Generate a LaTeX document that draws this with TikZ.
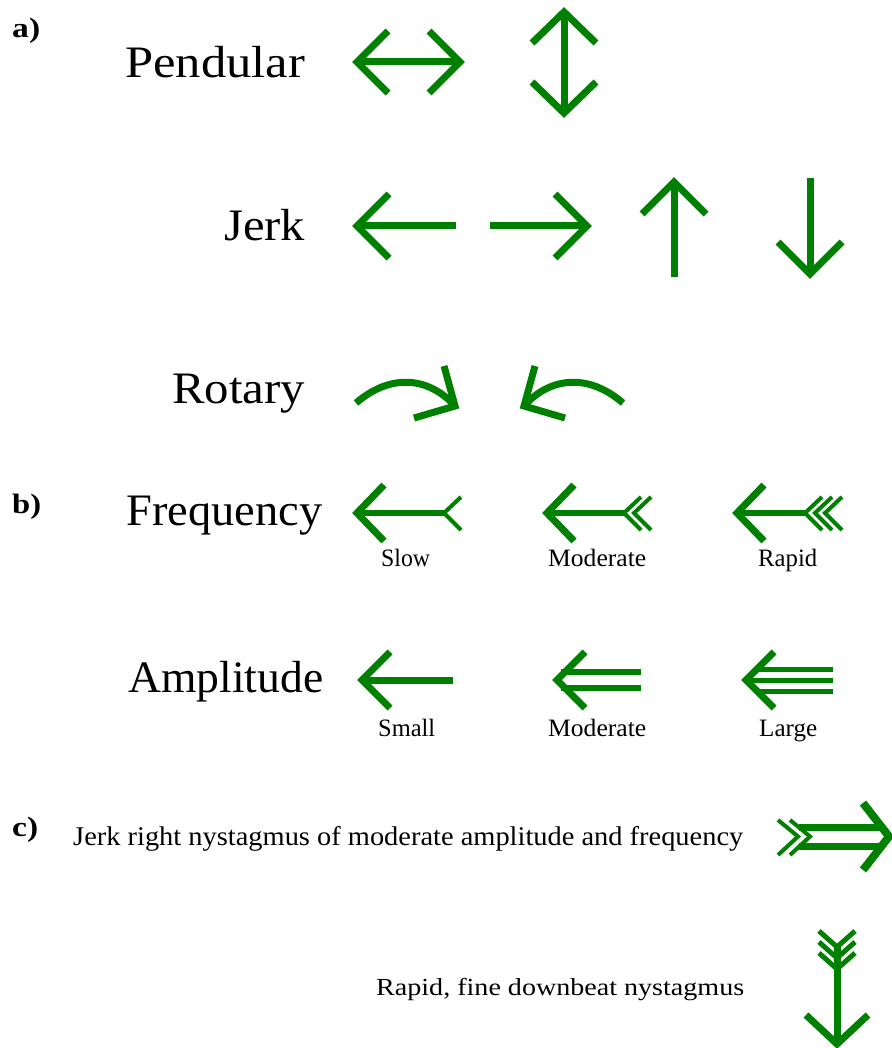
\documentclass[tikz,border=0pt]{standalone}
\usepackage{fontspec}
\setmainfont{Liberation Serif}
\usepackage{graphicx}
\definecolor{ngreen}{RGB}{0,128,0}
\newcommand\fitw[2]{\resizebox{#1}{\height}{#2}}
\tikzset{
  arr/.style={draw=ngreen, line width=7pt, line join=miter, line cap=butt},
  shaft/.style={draw=ngreen, line width=6pt, line cap=butt},
  fl/.style={draw=ngreen, line width=4pt, line join=miter, line cap=butt},
  lbl/.style={anchor=base west, inner sep=0pt, font=\fontsize{45}{50}\selectfont},
  sub/.style={anchor=base west, inner sep=0pt, font=\fontsize{25}{28}\selectfont},
  tag/.style={anchor=base west, inner sep=0pt, font=\fontsize{28}{30}\selectfont\bfseries}
}
\begin{document}
\begin{tikzpicture}[x=1pt,y=-1pt]
\useasboundingbox[fill=white] (0,0) rectangle (891,1048);
% tags
\node[tag] (ta) at (12,38) {\fitw{28pt}{a)}};
\node[tag] (tb) at (12,513) {\fitw{29pt}{b)}};
\node[tag] (tc) at (12,836) {\fitw{26pt}{c)}};
% main labels
\node[lbl] (pend) at (125,78) {\fitw{180pt}{Pendular}};
\node[lbl] (jerk) at (224,241) {\fitw{81pt}{Jerk}};
\node[lbl] (rot) at (172,403) {\fitw{133pt}{Rotary}};
\node[lbl] (freq) at (126,525) {\fitw{196pt}{Frequency}};
\node[lbl] (amp) at (128,692) {\fitw{195pt}{Amplitude}};
% sublabels
\node[sub] (slow) at (381,566) {\fitw{49pt}{Slow}};
\node[sub] (fmod) at (548,566) {\fitw{98pt}{Moderate}};
\node[sub] (rapid) at (758,566) {\fitw{59pt}{Rapid}};
\node[sub] (small) at (378,736) {\fitw{57pt}{Small}};
\node[sub] (amod) at (548,736) {\fitw{98pt}{Moderate}};
\node[sub] (large) at (759,736) {\fitw{58pt}{Large}};
\node[sub, font=\fontsize{27}{30}\selectfont] (ctext1) at (73,845) {\fitw{670pt}{Jerk right nystagmus of moderate amplitude and frequency}};
\node[sub, font=\fontsize{24.5}{28}\selectfont] (ctext2) at (376,995) {\fitw{368pt}{Rapid, fine downbeat nystagmus}};

% ---- Pendular
\draw[arr] (357,62) -- (460,62);
\draw[arr] (388,31) -- (357,62) -- (388,93);
\draw[arr] (429,31) -- (460,62) -- (429,93);
\draw[arr] (564,12) -- (564,113);
\draw[arr] (532,43) -- (564,12) -- (596,43);
\draw[arr] (532,82) -- (564,113) -- (596,82);

% ---- Jerk
\draw[arr] (357,226) -- (456,226);
\draw[arr] (389,194) -- (357,226) -- (389,258);
\draw[arr] (490,226) -- (587,226);
\draw[arr] (555,194) -- (587,226) -- (555,258);
\draw[arr] (674,182) -- (674,277);
\draw[arr] (642,214) -- (674,182) -- (706,214);
\draw[arr] (810,178) -- (810,274);
\draw[arr] (778,242) -- (810,274) -- (842,242);

% ---- Rotary
\draw[arr] (356,403) .. controls (392,372) and (430,378) .. (455,406);
\draw[arr] (444,366) -- (455,406) -- (414,418);
\draw[arr] (623,403) .. controls (587,372) and (549,378) .. (524,406);
\draw[arr] (535,366) -- (524,406) -- (565,418);

% ---- Frequency
\draw[shaft] (357,513) -- (444,513);
\draw[arr] (384,485) -- (357,513) -- (384,541);
\draw[fl] (461,497) -- (444,513) -- (461,530);

\draw[shaft] (547,513) -- (625,513);
\draw[arr] (574,485) -- (547,513) -- (574,541);
\draw[fl] (641,497) -- (624,513) -- (641,530);
\draw[fl] (651,497) -- (634,513) -- (651,530);

\draw[shaft] (737,513) -- (806,513);
\draw[arr] (764,485) -- (737,513) -- (764,541);
\draw[fl] (822,497) -- (805,513) -- (822,530);
\draw[fl] (832,497) -- (815,513) -- (832,530);
\draw[fl] (842,497) -- (825,513) -- (842,530);

% ---- Amplitude
\draw[arr] (362,680) -- (453,680);
\draw[arr] (390,652) -- (362,680) -- (390,708);

\draw[draw=ngreen, line width=6pt] (561,672) -- (641,672);
\draw[draw=ngreen, line width=6pt] (561,688) -- (641,688);
\draw[arr] (585,652) -- (557,680) -- (585,708);

\draw[draw=ngreen, line width=5pt] (755,669) -- (833,669);
\draw[draw=ngreen, line width=5pt] (746,680) -- (833,680);
\draw[draw=ngreen, line width=5pt] (755,691) -- (833,691);
\draw[arr] (774,652) -- (746,680) -- (774,708);

% ---- c) right arrow
\draw[draw=ngreen, line width=7pt] (799,827) -- (884,827);
\draw[draw=ngreen, line width=7pt] (799,846) -- (884,846);
\draw[arr, line width=8pt] (863,803) -- (889,836.5) -- (863,870);
\draw[fl] (778,820) -- (798,836.5) -- (778,855);
\draw[fl] (790,820) -- (810,836.5) -- (790,855);

% ---- c) down arrow
\draw[arr] (837,947) -- (837,1044);
\draw[arr] (806,1015) -- (837,1044) -- (868,1015);
\draw[fl, line width=5pt] (819,931) -- (837,947) -- (855,931);
\draw[fl, line width=5pt] (819,942) -- (837,958) -- (855,942);
\draw[fl, line width=5pt] (819,953) -- (837,969) -- (855,953);
\end{tikzpicture}
\end{document}
